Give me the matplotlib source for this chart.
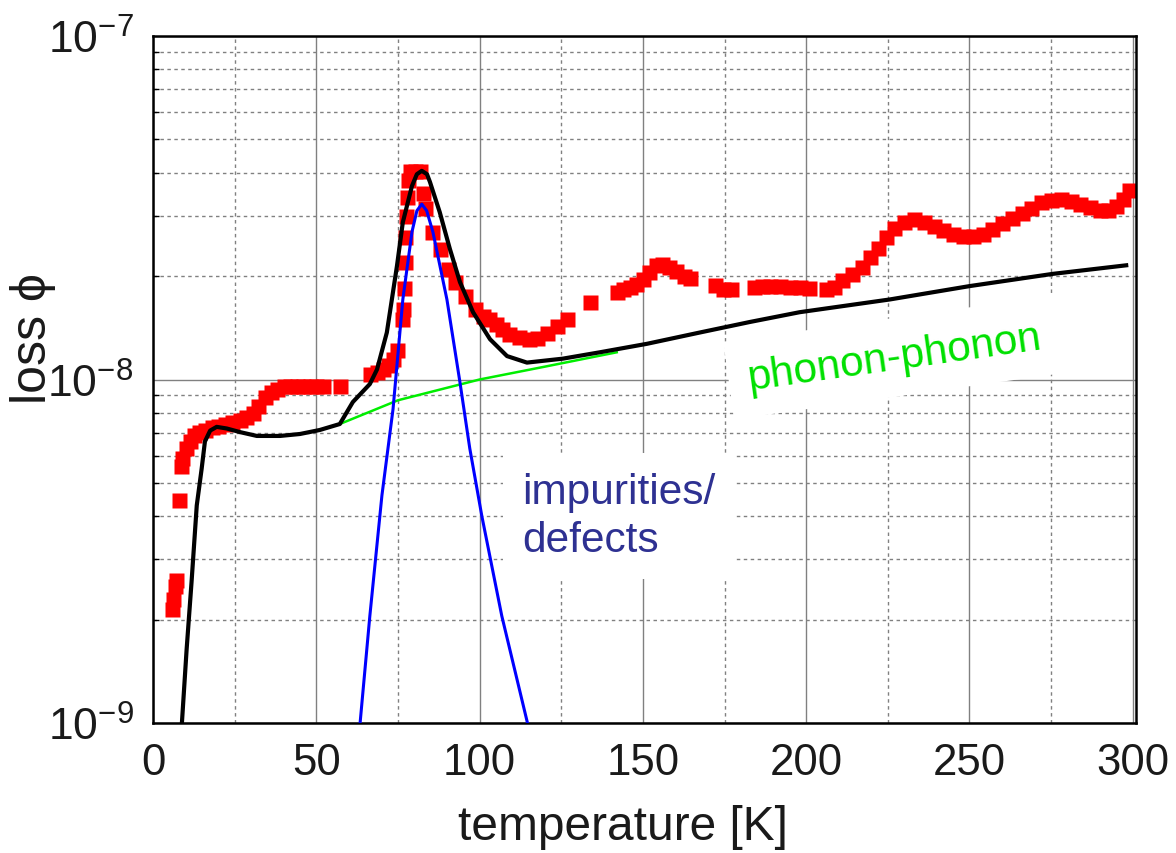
import matplotlib
matplotlib.use("Agg")
import matplotlib.pyplot as plt
from matplotlib.ticker import MultipleLocator, LogLocator, NullFormatter

plt.rcParams['font.family'] = ['Liberation Sans', 'DejaVu Sans']
plt.rcParams['mathtext.fontset'] = 'custom'
plt.rcParams['mathtext.rm'] = 'Liberation Sans'

# measured loss (red squares)
meas_T = [5.8, 6.2, 6.6, 7.0, 8.0, 8.5, 9.0, 10.0, 11.2, 12.6, 14.2, 16.0, 18.0, 20.0,
          22.0, 24.3, 26.6, 28.5, 30.6, 32.3, 34.3, 36.0, 38.0, 40.0, 42.0, 44.0, 46.0,
          48.0, 50.0, 52.0, 57.2,
          66.5, 68.5, 70.5, 72.0, 73.5, 74.7,
          76.2, 76.5, 76.8, 77.1, 77.3, 77.6, 77.8, 78.0, 78.7, 80.2, 81.7, 82.6, 83.3,
          85.4, 87.8, 90.3, 92.4, 95.5, 98.6, 101.0, 103.0, 105.0, 107.0, 109.0, 112.0,
          115.0, 117.5, 120.6, 123.7, 126.7, 133.8, 142.0, 144.0, 146.0, 148.0, 150.0,
          152.0, 154.0, 156.0, 158.0, 160.0, 162.5, 164.5, 172.0, 174.5, 177.0, 184.0,
          186.5, 189.0, 192.0, 195.0, 198.0, 201.0, 206.0, 208.5, 211.0, 214.0, 217.0,
          219.5, 222.0, 224.6, 227.0, 230.0, 233.0, 236.0, 239.0, 242.0, 245.0, 248.0,
          251.0, 254.0, 257.0, 260.0, 263.0, 266.0, 269.0, 272.0, 275.0, 278.0, 281.0,
          284.0, 287.0, 290.0, 292.5, 295.0, 297.0, 299.0]
meas_loss = [2.15e-9, 2.3e-9, 2.5e-9, 2.6e-9, 4.45e-9, 5.6e-9, 5.9e-9, 6.3e-9, 6.6e-9,
             6.9e-9, 7.05e-9, 7.15e-9, 7.25e-9, 7.3e-9, 7.4e-9, 7.5e-9, 7.6e-9, 7.8e-9,
             8.0e-9, 8.4e-9, 8.9e-9, 9.2e-9, 9.4e-9, 9.55e-9, 9.6e-9, 9.6e-9, 9.6e-9,
             9.6e-9, 9.6e-9, 9.55e-9, 9.55e-9,
             1.04e-8, 1.05e-8, 1.07e-8, 1.1e-8, 1.15e-8, 1.22e-8,
             1.5e-8, 1.6e-8, 1.85e-8, 2.2e-8, 2.6e-8, 3.0e-8, 3.4e-8, 3.8e-8, 4.05e-8,
             4.05e-8, 4.05e-8, 3.5e-8, 3.15e-8,
             2.69e-8, 2.4e-8, 2.1e-8, 1.92e-8, 1.75e-8, 1.6e-8, 1.53e-8, 1.5e-8, 1.45e-8,
             1.4e-8, 1.36e-8, 1.33e-8, 1.31e-8, 1.32e-8, 1.37e-8, 1.43e-8, 1.5e-8, 1.68e-8,
             1.8e-8, 1.83e-8, 1.86e-8, 1.9e-8, 1.96e-8, 2.05e-8, 2.15e-8, 2.17e-8, 2.13e-8,
             2.07e-8, 2.0e-8, 1.97e-8, 1.88e-8, 1.84e-8, 1.83e-8, 1.86e-8, 1.87e-8, 1.87e-8,
             1.87e-8, 1.86e-8, 1.86e-8, 1.85e-8, 1.83e-8, 1.86e-8, 1.95e-8, 2.03e-8,
             2.12e-8, 2.27e-8, 2.42e-8, 2.6e-8, 2.76e-8, 2.88e-8, 2.93e-8, 2.88e-8, 2.8e-8,
             2.72e-8, 2.66e-8, 2.62e-8, 2.62e-8, 2.66e-8, 2.75e-8, 2.86e-8, 2.96e-8,
             3.06e-8, 3.16e-8, 3.28e-8, 3.33e-8, 3.35e-8, 3.3e-8, 3.24e-8, 3.17e-8, 3.12e-8,
             3.12e-8, 3.2e-8, 3.35e-8, 3.55e-8]

# total fit (black)
fit_T = [8.7, 10.3, 11.8, 13.4, 14.9, 15.9, 17.5, 19.5, 22.6, 26.6, 31.8, 38.9, 45.0,
         51.1, 57.2, 61.2, 66.4, 68.6, 71.6, 74.7, 76.5, 79.3, 80.8, 82.3, 83.9, 84.8,
         87.8, 90.9, 94.0, 98.0, 103.2, 108.4, 114.5, 125.5, 136.8, 151.2, 167.4, 182.7,
         198.0, 225.6, 250.0, 275.5, 298.0]
fit_loss = [0.95e-9, 1.64e-9, 2.57e-9, 4.3e-9, 5.5e-9, 6.6e-9, 7.1e-9, 7.28e-9, 7.2e-9,
            7.03e-9, 6.85e-9, 6.85e-9, 6.94e-9, 7.13e-9, 7.42e-9, 8.6e-9, 9.7e-9, 1.07e-8,
            1.37e-8, 2.14e-8, 2.87e-8, 3.66e-8, 3.96e-8, 4.05e-8, 3.96e-8, 3.76e-8, 3.07e-8,
            2.4e-8, 1.92e-8, 1.57e-8, 1.31e-8, 1.17e-8, 1.12e-8, 1.15e-8, 1.2e-8, 1.27e-8,
            1.37e-8, 1.47e-8, 1.57e-8, 1.71e-8, 1.87e-8, 2.03e-8, 2.15e-8]

# impurities / defects contribution (blue)
imp_T = [63.2, 66.4, 70.1, 73.5, 76.5, 79.3, 80.8, 82.3, 83.8, 85.7, 90.0, 94.0, 97.0,
         100.7, 106.8, 115.0]
imp_loss = [0.95e-9, 2.05e-9, 4.6e-9, 8.2e-9, 1.71e-8, 2.69e-8, 3.1e-8, 3.24e-8, 3.1e-8,
            2.69e-8, 1.71e-8, 9.8e-9, 6.3e-9, 4.0e-9, 2.05e-9, 0.97e-9]

# phonon-phonon contribution (green)
ph_T = [57.2, 75.0, 100.0, 120.0, 142.0]
ph_loss = [7.42e-9, 8.7e-9, 1.0e-8, 1.09e-8, 1.2e-8]

xticks = [0, 50, 100, 150, 200, 250, 300]
yticks = [1e-9, 1e-8, 1e-7]
ytick_labels = [r'$\mathregular{10^{-9}}$', r'$\mathregular{10^{-8}}$', r'$\mathregular{10^{-7}}$']

fig = plt.figure(figsize=(11.76, 8.54), dpi=100)
ax = fig.add_axes([153/1176, 1-724/854, (1136-153)/1176, (724-37)/854])
ax.set_yscale('log')
ax.set_xlim(0, 301)
ax.set_ylim(1e-9, 1e-7)
ax.set_axisbelow(True)

ax.xaxis.set_major_locator(MultipleLocator(50))
ax.xaxis.set_minor_locator(MultipleLocator(25))
ax.set_xticks(xticks)
ax.set_xticklabels([str(t) for t in xticks])
ax.set_yticks(yticks)
ax.set_yticklabels(ytick_labels)
ax.yaxis.set_minor_locator(LogLocator(base=10, subs=range(2, 10)))
ax.yaxis.set_minor_formatter(NullFormatter())

ax.grid(which='major', color='#808080', lw=1.0, ls='-')
ax.grid(which='minor', color='#808080', lw=1.0, ls=(0, (2.5, 2.5)))

ax.tick_params(which='both', direction='in', color='black', labelcolor='#1a1a1a')
ax.tick_params(axis='x', which='major', length=0, pad=14, labelsize=31.5)
ax.tick_params(axis='y', which='major', length=0, pad=14, labelsize=32)
ax.tick_params(axis='y', which='minor', length=4, width=1)
ax.tick_params(axis='x', which='minor', length=0)
for s in ax.spines.values():
    s.set_linewidth(1.8)
    s.set_color('black')

ax.plot(meas_T, meas_loss, 's', color='#ff0000', ms=10.8, mec='none', zorder=2)
ax.plot(ph_T, ph_loss, '-', color='#00ee00', lw=1.8, zorder=3)
ax.plot(imp_T, imp_loss, '-', color='#0000ff', lw=2.2, zorder=3)
ax.plot(fit_T, fit_loss, '-', color='black', lw=3.0, zorder=4)

ax.text(113, 4.0e-9, 'impurities/\ndefects', color='#2e3192', fontsize=30.5,
        ha='left', va='center', linespacing=1.25, zorder=1.5,
        bbox=dict(boxstyle='square,pad=0.45', fc='white', ec='none'))
ax.text(227, 1.16e-8, 'phonon-phonon', color='#00e000', fontsize=30.5,
        ha='center', va='center', rotation=8, rotation_mode='anchor', zorder=1.5,
        bbox=dict(boxstyle='square,pad=0.45', fc='white', ec='none'))

fig.text(33/1176, 1-338/854, 'loss \u03d5', rotation=90, ha='center', va='center',
         fontsize=36, color='#1a1a1a')
fig.text(623/1176, 1-828/854, 'temperature [K]', ha='center', va='center',
         fontsize=34.5, color='#1a1a1a')

fig.savefig('out.png', dpi=100)
